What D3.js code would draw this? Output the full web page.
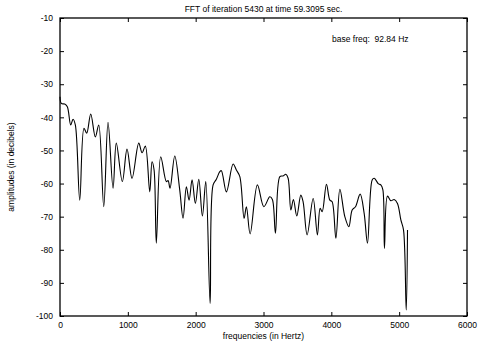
<!DOCTYPE html>
<html>
<head>
<meta charset="utf-8">
<script src="https://cdn.jsdelivr.net/npm/d3@7"></script>
<style>
    body { margin: 0; background: #fff; }
    text { font-family: "Liberation Sans", Arial, sans-serif; font-size: 8.5px; fill: #000; }
    .axis path { display: none; }
    .axis line { stroke: #000; stroke-width: 1; }
    .line { fill: none; stroke: #000; stroke-width: 1.1; }
</style>
</head>
<body>
<svg id="chart" width="478" height="345"></svg>
<script>
// frequencies (Hz) and amplitudes (dB)
let freqs = [0, 19, 69, 108, 158, 192, 226, 291, 354, 394, 453, 521, 571, 645, 708, 782, 830, 919, 988, 1062,
    1161, 1210, 1258, 1323, 1357, 1387, 1420, 1485, 1568, 1593, 1622, 1692, 1765, 1814, 1863, 1903, 1947, 1996, 2046, 2099,
    2149, 2213, 2257, 2305, 2356, 2379, 2453, 2552, 2600, 2651, 2714, 2748, 2803, 2910, 3005, 3093, 3131, 3176, 3241, 3289,
    3329, 3363, 3403, 3441, 3491, 3550, 3584, 3643, 3732, 3795, 3835, 3865, 3928, 3978, 4012, 4067, 4126, 4199, 4258, 4307,
    4356, 4425, 4484, 4533, 4602, 4632, 4695, 4730, 4760, 4783, 4828, 4878, 4926, 4975, 5025, 5064, 5104, 5123];
let amps = [-33.8, -35.8, -36.0, -36.8, -42.3, -40.6, -42.3, -65.0, -43.3, -44.8, -39.0, -45.9, -42.3, -67.0, -41.5, -61.4, -47.8, -59.4, -49.6, -58.4,
    -47.8, -50.7, -48.7, -62.5, -53.4, -55.9, -78.0, -51.9, -59.4, -59.1, -61.4, -51.7, -61.9, -70.5, -61.0, -65.0, -58.9, -66.0, -58.7, -69.8,
    -59.4, -96.2, -60.4, -58.7, -56.4, -56.1, -62.5, -54.1, -55.9, -57.9, -70.5, -67.0, -75.2, -60.4, -67.0, -64.0, -64.8, -75.0, -57.9, -57.7,
    -57.2, -58.4, -68.0, -64.8, -69.8, -63.5, -65.5, -75.5, -64.5, -75.5, -67.5, -68.5, -60.2, -65.0, -65.5, -76.5, -61.7, -70.0, -73.0, -68.0,
    -67.0, -63.2, -69.0, -78.0, -58.9, -58.4, -60.1, -60.4, -61.9, -79.6, -63.8, -65.2, -64.8, -66.0, -71.0, -74.0, -98.2, -74.0];
let xTicks = [0, 1000, 2000, 3000, 4000, 5000, 6000];
let yTicks = [-10, -20, -30, -40, -50, -60, -70, -80, -90, -100];

let margin = { left: 60, right: 11, top: 18, bottom: 29 };
let w = 478, h = 345;
let pw = w - margin.left - margin.right;
let ph = h - margin.top - margin.bottom;

let svg = d3.select("#chart")
    .append("g")
    .attr("transform", "translate(" + margin.left + ", " + margin.top + ")");

let xScale = d3.scaleLinear().domain([0, 6000]).range([0, pw]);
let yScale = d3.scaleLinear().domain([-100, -10]).range([ph, 0]);

// plain integer labels with an ascii minus
let fmt = (d) => String(d);

// ticks on all four sides, pointing inward
svg.append("g").attr("class", "axis")
    .attr("transform", "translate(0, " + ph + ")")
    .call(d3.axisBottom(xScale).tickValues(xTicks).tickFormat(fmt).tickSizeInner(-4).tickSizeOuter(0).tickPadding(6));
svg.append("g").attr("class", "axis")
    .call(d3.axisTop(xScale).tickValues(xTicks).tickSizeInner(-4).tickSizeOuter(0).tickFormat(""));
svg.append("g").attr("class", "axis")
    .call(d3.axisLeft(yScale).tickValues(yTicks).tickFormat(fmt).tickSizeInner(-4).tickSizeOuter(0).tickPadding(7));
svg.append("g").attr("class", "axis")
    .attr("transform", "translate(" + pw + ", 0)")
    .call(d3.axisRight(yScale).tickValues(yTicks).tickSizeInner(-4).tickSizeOuter(0).tickFormat(""));

svg.selectAll(".axis text").style("font-size", "8.5px").style("font-family", "'Liberation Sans', Arial, sans-serif");

// frame
svg.append("rect")
    .attr("width", pw).attr("height", ph)
    .attr("fill", "none").attr("stroke", "#000").attr("stroke-width", 1.3);

let data = freqs.map((f, i) => ({ f: f, a: amps[i] }));
let line = d3.line()
    .curve(d3.curveCatmullRom.alpha(0.5))
    .x((d) => xScale(d.f))
    .y((d) => yScale(d.a));
svg.append("path").attr("class", "line").attr("d", line(data));

// titles
svg.append("text")
    .attr("x", pw / 2).attr("y", -6)
    .attr("text-anchor", "middle")
    .text("FFT of iteration 5430 at time 59.3095 sec.");
svg.append("text")
    .attr("x", pw / 2).attr("y", ph + 23)
    .attr("text-anchor", "middle")
    .text("frequencies (in Hertz)");
svg.append("text")
    .attr("text-anchor", "middle")
    .attr("transform", "translate(-46, " + (ph / 2) + ") rotate(-90)")
    .text("amplitudes (in decibels)");
svg.append("text")
    .attr("x", 272).attr("y", 24)
    .style("white-space", "pre")
    .text("base freq:  92.84 Hz");
</script>
</body>
</html>
